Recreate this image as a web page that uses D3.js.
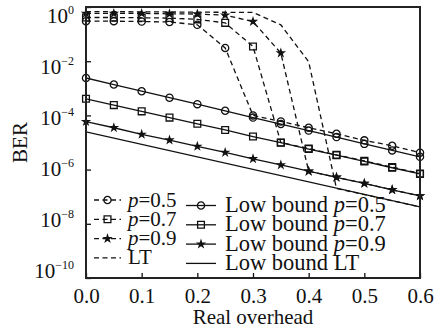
<!DOCTYPE html>
<html>
<head>
<meta charset="utf-8">
<script src="https://cdn.jsdelivr.net/npm/d3@7"></script>
<style>
  body { margin: 0; background: #fff; }
  text { font-family: "Liberation Serif", "Times New Roman", serif; fill: #111; }
</style>
</head>
<body>
<div id="chart"></div>
<script>

// overhead values where the markers sit
var overhead = [0, 0.05, 0.1, 0.15, 0.2, 0.25, 0.3, 0.35, 0.4, 0.45, 0.5, 0.55, 0.6];

// simulated BER (dashed)
var berP05 = [0.30, 0.30, 0.29, 0.28, 0.22, 3.1e-2, 1.0e-4, 6.0e-5, 3.5e-5, 2.1e-5, 1.2e-5, 7.6e-6, 4.2e-6];
var berP07 = [0.41, 0.41, 0.40, 0.39, 0.35, 0.26, 3.5e-2, 1.0e-5, 6.0e-6, 3.5e-6, 2.1e-6, 1.23e-6, 7.2e-7];
var berP09 = [0.58, 0.58, 0.58, 0.56, 0.55, 0.50, 0.29, 2.0e-2, 8.7e-7, 5.2e-7, 3.1e-7, 1.8e-7, 1.07e-7];
var overheadLT = [0, 0.3, 0.35, 0.4, 0.45, 0.5, 0.55, 0.6];
var berLT = [0.68, 0.63, 0.22, 9.5e-3, 2.0e-7, 1.2e-7, 7.1e-8, 4.2e-8];

// low bounds (solid)
var lowP05 = [2.4e-3, 1.38e-3, 7.8e-4, 4.5e-4, 2.6e-4, 1.48e-4, 8.3e-5, 4.8e-5, 2.75e-5, 1.58e-5, 8.9e-6, 5.1e-6, 2.95e-6];
var lowP07 = [4.1e-4, 2.4e-4, 1.41e-4, 8.3e-5, 4.9e-5, 2.9e-5, 1.66e-5, 9.8e-6, 5.75e-6, 3.4e-6, 2.0e-6, 1.17e-6, 6.9e-7];
var lowP09 = [5.9e-5, 3.5e-5, 2.0e-5, 1.23e-5, 7.2e-6, 4.3e-6, 2.5e-6, 1.48e-6, 8.7e-7, 5.2e-7, 3.1e-7, 1.8e-7, 1.07e-7];
var overheadLowLT = [0, 0.6];
var lowLT = [2.45e-5, 4.2e-8];

var xTicks = [0, 0.1, 0.2, 0.3, 0.4, 0.5, 0.6];
var yTickExp = [0, -2, -4, -6, -8, -10];

var series = [
    { x: overhead, y: berP05, dash: true, marker: 'circle' },
    { x: overhead, y: berP07, dash: true, marker: 'square' },
    { x: overhead, y: berP09, dash: true, marker: 'star' },
    { x: overheadLT, y: berLT, dash: true, marker: null },
    { x: overhead, y: lowP05, dash: false, marker: 'circle' },
    { x: overhead, y: lowP07, dash: false, marker: 'square' },
    { x: overhead, y: lowP09, dash: false, marker: 'star' },
    { x: overheadLowLT, y: lowLT, dash: false, marker: null }
];

var margin = { top: 7, right: 26, bottom: 51, left: 86 },
    width = 446 - margin.left - margin.right,
    height = 329 - margin.top - margin.bottom;

var svg = d3.select('#chart')
    .append('svg')
    .attr('width', 446)
    .attr('height', 329);

var g = svg.append('g')
    .attr('transform', 'translate(' + margin.left + ',' + margin.top + ')');

var xScale = d3.scaleLinear().domain([0, 0.6]).range([0, width]);
var yScale = d3.scaleLog().domain([1e-10, 1]).range([height, 0]);

var line = d3.line()
    .x(d => xScale(d[0]))
    .y(d => yScale(d[1]));

function drawMarker(sel, type) {
    if (type === 'circle') {
        sel.append('circle').attr('r', 3.6)
            .attr('fill', 'none').attr('stroke', '#111').attr('stroke-width', 1.3);
    } else if (type === 'square') {
        sel.append('path').attr('d', d3.symbol(d3.symbolSquare, 46)())
            .attr('fill', 'none').attr('stroke', '#111').attr('stroke-width', 1.3);
    } else if (type === 'star') {
        sel.append('path').attr('d', d3.symbol(d3.symbolStar, 34)())
            .attr('fill', '#111');
    }
}

// clip for the curves
svg.append('clipPath').attr('id', 'plotclip')
    .append('rect').attr('width', width).attr('height', height);

var plot = g.append('g').attr('clip-path', 'url(#plotclip)');

series.forEach(function (s) {
    var pts = s.x.map((v, i) => [v, s.y[i]]);
    plot.append('path')
        .datum(pts)
        .attr('d', line)
        .attr('fill', 'none')
        .attr('stroke', '#111')
        .attr('stroke-width', 1.3)
        .attr('stroke-dasharray', s.dash ? '5,3.5' : null);
});

series.forEach(function (s) {
    if (!s.marker) return;
    var pts = s.x.map((v, i) => [v, s.y[i]]);
    g.selectAll(null).data(pts)
        .enter().append('g')
        .attr('transform', d => 'translate(' + xScale(d[0]) + ',' + yScale(d[1]) + ')')
        .each(function () { drawMarker(d3.select(this), s.marker); });
});

// axes
var xAxis = d3.axisBottom(xScale)
    .tickValues(xTicks)
    .tickSize(-5)
    .tickPadding(10)
    .tickFormat(d3.format('.1f'));

var xAxisG = g.append('g')
    .attr('transform', 'translate(0,' + height + ')')
    .call(xAxis);
xAxisG.select('.domain').remove();
xAxisG.selectAll('line').attr('stroke', '#111').attr('stroke-width', 1.3);
xAxisG.selectAll('text')
    .attr('font-size', 21)
    .attr('font-family', '"Liberation Serif", serif')
    .attr('fill', '#111');

var yAxis = d3.axisLeft(yScale)
    .tickValues(yTickExp.map(e => Math.pow(10, e)))
    .tickSize(-5)
    .tickFormat('');

var yAxisG = g.append('g').call(yAxis);
yAxisG.select('.domain').remove();
yAxisG.selectAll('line').attr('stroke', '#111').attr('stroke-width', 1.3);

// tick labels sit a little below their ticks near the top, as in the original
yTickExp.forEach(function (e) {
    var ty = yScale(Math.pow(10, e));
    var t = g.append('text')
        .attr('x', -12)
        .attr('y', 16 + ty * 254 / 270)
        .attr('text-anchor', 'end')
        .attr('font-size', 21);
    t.append('tspan').text('10');
    t.append('tspan')
        .attr('font-size', 12)
        .attr('dy', -9)
        .text(e === 0 ? '0' : '\u2212' + (-e));
});

// frame
g.append('rect')
    .attr('width', width)
    .attr('height', height)
    .attr('fill', 'none')
    .attr('stroke', '#222')
    .attr('stroke-width', 2);

// axis titles
svg.append('text')
    .attr('x', margin.left + width / 2)
    .attr('y', 324)
    .attr('text-anchor', 'middle')
    .attr('font-size', 21)
    .text('Real overhead');

svg.append('text')
    .attr('transform', 'translate(27,' + (margin.top + height / 2) + ') rotate(-90)')
    .attr('text-anchor', 'middle')
    .attr('font-size', 21)
    .text('BER');

// legend
var legendItems = [
    { col: 0, row: 0, dash: true, marker: 'circle', label: 'p', rest: '=0.5' },
    { col: 0, row: 1, dash: true, marker: 'square', label: 'p', rest: '=0.7' },
    { col: 0, row: 2, dash: true, marker: 'star', label: 'p', rest: '=0.9' },
    { col: 0, row: 3, dash: true, marker: null, label: null, rest: 'LT' },
    { col: 1, row: 0, dash: false, marker: 'circle', label: 'p', rest: '=0.5' },
    { col: 1, row: 1, dash: false, marker: 'square', label: 'p', rest: '=0.7' },
    { col: 1, row: 2, dash: false, marker: 'star', label: 'p', rest: '=0.9' },
    { col: 1, row: 3, dash: false, marker: null, label: null, rest: 'LT' }
];

var legCols = [
    { x0: 94, x1: 121, tx: 128, y0: 200, fs: 21 },
    { x0: 186, x1: 216, tx: 225, y0: 205.5, fs: 22.5 }
];

legendItems.forEach(function (it) {
    var c = legCols[it.col];
    var cy = c.y0 + it.row * 19.3;
    svg.append('line')
        .attr('x1', c.x0).attr('x2', c.x1)
        .attr('y1', cy).attr('y2', cy)
        .attr('stroke', '#111')
        .attr('stroke-width', 1.3)
        .attr('stroke-dasharray', it.dash ? '5,3.5' : null);
    if (it.marker) {
        var mg = svg.append('g')
            .attr('transform', 'translate(' + (c.x0 + c.x1) / 2 + ',' + cy + ')');
        drawMarker(mg, it.marker);
    }
    var t = svg.append('text')
        .attr('x', c.tx)
        .attr('y', cy + 6.5)
        .attr('font-size', c.fs);
    if (it.col === 1) t.append('tspan').text('Low bound ');
    if (it.label) t.append('tspan').attr('font-style', 'italic').text(it.label);
    t.append('tspan').text(it.rest);
});

</script>
</body>
</html>
